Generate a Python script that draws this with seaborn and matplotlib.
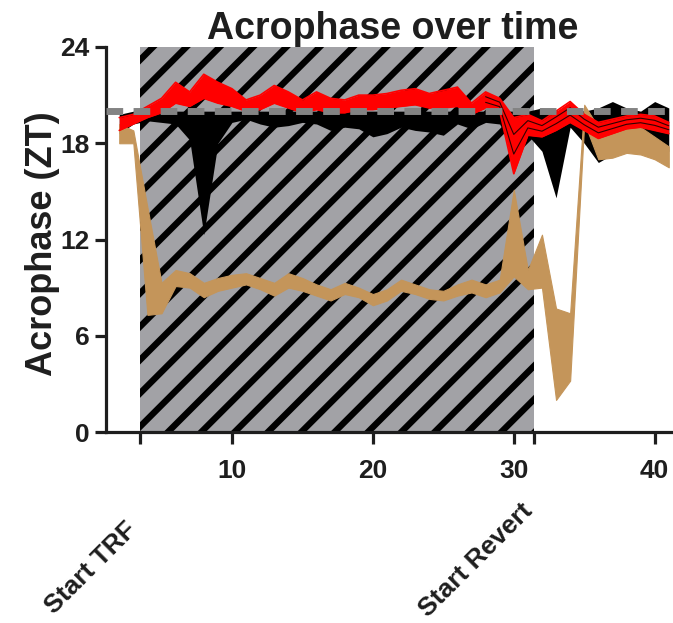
import numpy as np
import pandas as pd
import seaborn as sns
import matplotlib.pyplot as plt
from matplotlib import transforms

# days of the experiment
days = list(range(2, 42))

# black group: lower / upper edge of the band (ZT)
black_hi = [19.8, 20.0, 20.0, 20.0, 20.0, 20.0, 20.0, 20.0, 20.0, 20.0,
            20.0, 20.0, 20.0, 20.0, 20.0, 20.0, 20.0, 20.0, 20.0, 20.0,
            20.0, 20.0, 20.0, 20.0, 20.0, 20.0, 20.0, 20.0, 20.0, 20.0,
            20.2, 20.0, 20.3, 20.0, 20.2, 20.6, 20.2, 20.0, 20.6, 20.2]
black_lo = [18.6, 19.2, 19.4, 19.3, 19.2, 18.2, 12.3, 18.0, 19.3, 19.5,
            19.2, 19.0, 19.1, 19.3, 19.2, 18.8, 19.0, 18.9, 18.4, 18.6,
            19.0, 18.8, 18.7, 18.5, 19.2, 18.9, 19.3, 19.2, 17.5, 18.5,
            17.5, 14.6, 19.0, 18.0, 16.8, 17.3, 17.5, 17.5, 17.5, 17.5]

# red group
red_hi = [19.6, 19.8, 20.3, 20.8, 21.8, 21.2, 22.3, 21.8, 21.4, 20.7,
          21.0, 21.6, 21.2, 20.7, 21.2, 20.8, 20.7, 21.0, 21.0, 21.1,
          21.3, 21.4, 21.1, 21.3, 21.5, 20.5, 21.2, 20.8, 19.6, 19.8,
          19.4, 20.0, 20.6, 19.8, 19.3, 19.5, 19.7, 19.8, 19.7, 19.3]
red_lo = [18.8, 19.2, 19.6, 19.9, 20.5, 20.3, 20.8, 20.5, 20.3, 20.0,
          20.1, 20.5, 20.2, 19.9, 20.1, 19.9, 19.9, 20.1, 20.1, 20.2,
          20.3, 20.4, 20.2, 20.2, 20.3, 19.8, 20.2, 20.0, 16.1, 18.5,
          18.4, 18.8, 19.3, 18.8, 18.3, 18.6, 18.9, 19.0, 18.8, 18.6]

# tan group
tan_hi = [19.2, 18.8, 14.0, 9.3, 10.1, 9.9, 9.3, 9.6, 9.8, 9.9,
          9.6, 9.3, 9.9, 9.6, 9.2, 8.9, 9.3, 9.0, 8.6, 8.9,
          9.5, 9.2, 8.9, 8.8, 9.2, 9.5, 9.2, 9.5, 15.1, 10.1,
          12.3, 7.7, 7.4, 20.4, 19.0, 18.8, 19.5, 19.0, 18.4, 17.8]
tan_lo = [18.0, 18.0, 7.3, 7.4, 9.1, 9.0, 8.4, 8.8, 9.0, 9.2,
          8.9, 8.5, 9.0, 8.8, 8.5, 8.2, 8.6, 8.4, 7.9, 8.2,
          8.8, 8.6, 8.3, 8.2, 8.5, 8.7, 8.4, 8.7, 9.7, 8.9,
          9.0, 2.0, 3.2, 19.3, 17.0, 17.1, 17.4, 17.3, 17.0, 16.5]

trf_start = 3.5
revert_start = 31.4
baseline = 20

sns.set_style('ticks')
plt.rcParams['font.family'] = ['Liberation Sans', 'DejaVu Sans']
plt.rcParams['font.weight'] = 'bold'
plt.rcParams['hatch.linewidth'] = 4.6
plt.rcParams['hatch.color'] = 'black'

ink = '#1e1e1e'

fig = plt.figure(figsize=(6.73, 6.23), dpi=100)
ax = fig.add_axes([106 / 673, 191 / 623, 567 / 673, 385 / 623])

ax.axvspan(trf_start, revert_start, facecolor='#a2a2a6', edgecolor='black',
           hatch='/', linewidth=0, zorder=0)

df = pd.DataFrame({'day': days, 'black_hi': black_hi, 'black_lo': black_lo,
                   'red_hi': red_hi, 'red_lo': red_lo,
                   'tan_hi': tan_hi, 'tan_lo': tan_lo})

ax.fill_between(df['day'], df['black_lo'], df['black_hi'], color='black',
                linewidth=0, zorder=2)
ax.fill_between(df['day'], df['tan_lo'], df['tan_hi'], color='#c4955a',
                linewidth=0.8, edgecolor='#c4955a', zorder=3)
ax.fill_between(df['day'], df['red_lo'], df['red_hi'], color='#ff0000',
                linewidth=0, zorder=4)
sns.lineplot(x=df['day'], y=df['red_hi'], color='#ff0000', linewidth=1.2,
             ax=ax, zorder=5)
sns.lineplot(x=df['day'], y=df['red_lo'], color='#ff0000', linewidth=1.2,
             ax=ax, zorder=5)

# individual traces show through around the revert, outlined in black
rev = df[(df['day'] >= 28) & (df['day'] <= 41)]
for frac in (0.35, 0.7):
    trace = rev['red_lo'] + frac * (rev['red_hi'] - rev['red_lo'])
    sns.lineplot(x=rev['day'], y=trace, color='#300000', linewidth=0.8,
                 ax=ax, zorder=5)

ax.axhline(baseline, color='#838383', linewidth=5, dashes=(2.4, 1.5), zorder=6)

ax.set_xlim(1.06, 41.3)
ax.set_ylim(0, 24)
ax.set_yticks([0, 6, 12, 18, 24])
ax.set_xticks([trf_start, 10, 20, 30, revert_start, 40])
ax.set_xticklabels(['', '10', '20', '30', '', '40'])
ax.set_xlabel('')

for s in ('top', 'right'):
    ax.spines[s].set_visible(False)
for s in ('left', 'bottom'):
    ax.spines[s].set_linewidth(2.3)
    ax.spines[s].set_color(ink)
ax.tick_params(axis='both', width=2.3, color=ink, labelcolor=ink,
               labelsize=19, direction='out')
ax.tick_params(axis='x', length=8.5, pad=11)
ax.tick_params(axis='y', length=8, pad=4)
for lab in ax.get_xticklabels() + ax.get_yticklabels():
    lab.set_fontweight('bold')

ax.set_title('Acrophase over time', fontsize=27, fontweight='bold',
             color=ink, pad=6, x=0.506)
ax.set_ylabel('Acrophase (ZT)', fontsize=26, fontweight='bold', color=ink)
ax.yaxis.set_label_coords(-0.081, 0.49)

trans = transforms.blended_transform_factory(ax.transData, ax.transAxes)
ax.text(trf_start + 0.07, -0.223, 'Start TRF', rotation=45, ha='right',
        va='top', fontsize=19, fontweight='bold', color=ink,
        transform=trans, clip_on=False)
ax.text(revert_start + 0.25, -0.174, 'Start Revert', rotation=45, ha='right',
        va='top', fontsize=19, fontweight='bold', color=ink,
        transform=trans, clip_on=False)

fig.savefig('out.png', dpi=100)
